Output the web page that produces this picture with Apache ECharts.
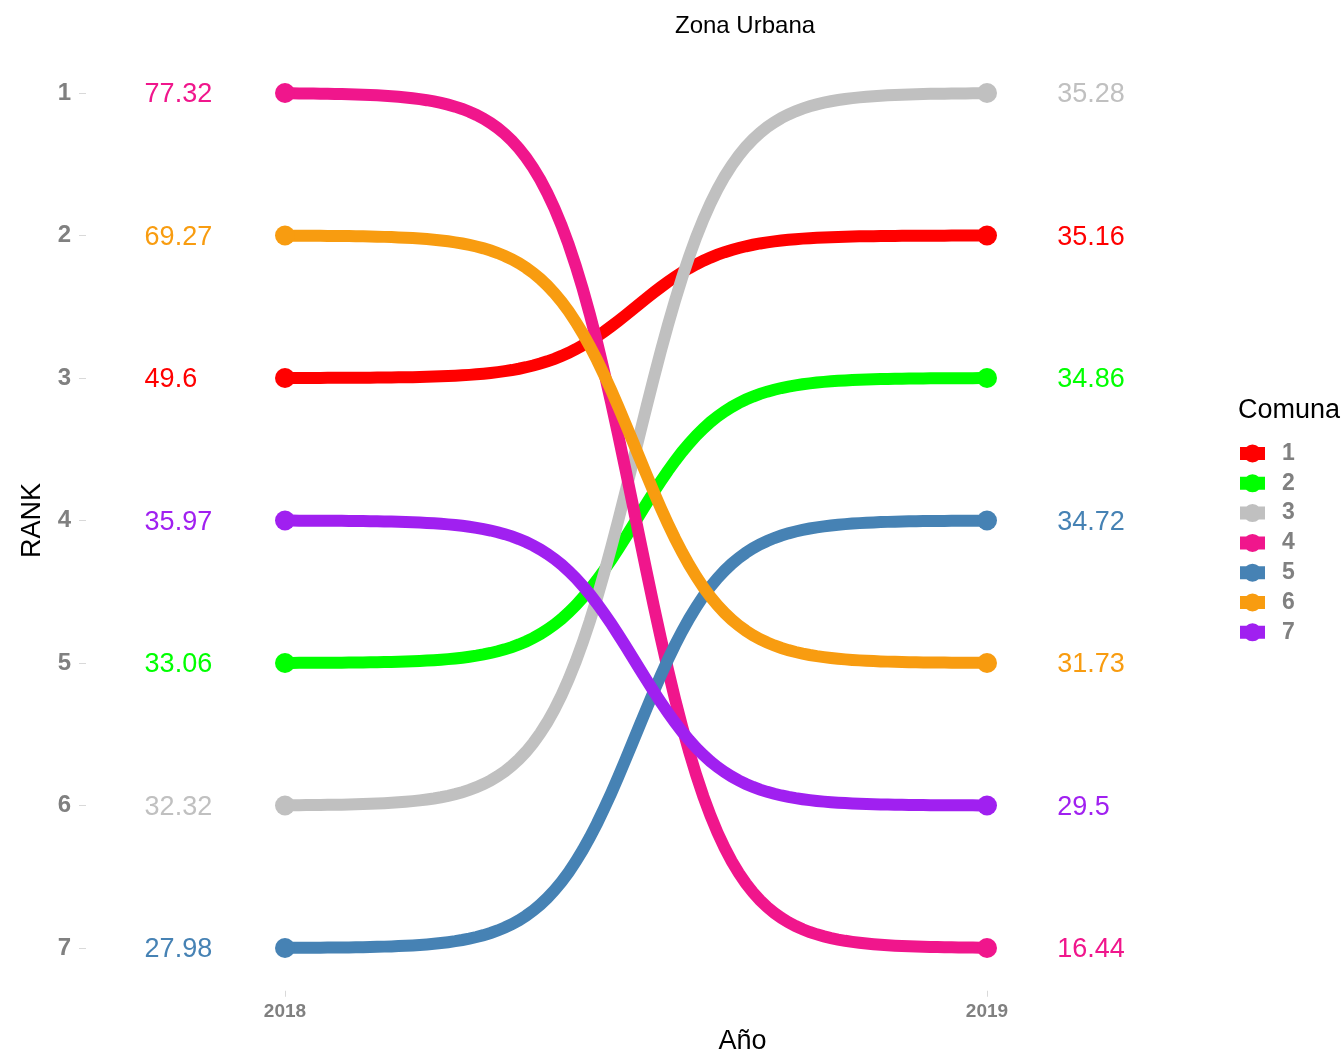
<!DOCTYPE html>
<html>
<head>
<meta charset="utf-8">
<script src="https://cdn.jsdelivr.net/npm/echarts@6/dist/echarts.min.js"></script>
<style>html,body{margin:0;padding:0;background:#fff;overflow:hidden}#c{width:1344px;height:1054px}</style>
</head>
<body>
<div id="c"></div>
<script>
var comunas = ['1', '2', '3', '4', '5', '6', '7'];
var colors = ['#FF0000', '#00FF00', '#C0C0C0', '#F0168C', '#4682B4', '#F89C10', '#A020F0'];
var years = [2018, 2019];
var rank2018 = [3, 5, 6, 1, 7, 2, 4];
var rank2019 = [2, 3, 1, 7, 4, 5, 6];
var value2018 = [49.6, 33.06, 32.32, 77.32, 27.98, 69.27, 35.97];
var value2019 = [35.16, 34.86, 35.28, 16.44, 34.72, 31.73, 29.5];
var rankTicks = [1, 2, 3, 4, 5, 6, 7];

var SMOOTH = 8, N = 100;
var LABEL_LEFT = 2017.8, LABEL_RIGHT = 2019.1;
var FONT = '"Liberation Sans", Arial, Helvetica, sans-serif';

function makeRender(idx) {
  return function (params, api) {
    var p0 = api.coord([api.value(0), api.value(1)]);
    var p1 = api.coord([api.value(2), api.value(3)]);
    var pts = [];
    for (var i = 0; i < N; i++) {
      var t = -SMOOTH + (2 * SMOOTH) * i / (N - 1);
      var s = Math.exp(t) / (Math.exp(t) + 1);
      pts.push([p0[0] + (t + SMOOTH) / (2 * SMOOTH) * (p1[0] - p0[0]), p0[1] + s * (p1[1] - p0[1])]);
    }
    var col = colors[idx];
    var lA = api.coord([LABEL_LEFT, api.value(1)]);
    var lB = api.coord([LABEL_RIGHT, api.value(3)]);
    return {
      type: 'group',
      children: [
        { type: 'polyline', shape: { points: pts }, style: { stroke: col, lineWidth: 12, fill: null, lineCap: 'butt' } },
        { type: 'circle', z2: 10, shape: { cx: p0[0], cy: p0[1], r: 10 }, style: { fill: col } },
        { type: 'circle', z2: 10, shape: { cx: p1[0], cy: p1[1], r: 10 }, style: { fill: col } },
        { type: 'text', x: lA[0], y: lA[1] + 2, style: { text: String(value2018[idx]), fill: col, font: '27px ' + FONT, align: 'left', verticalAlign: 'middle' } },
        { type: 'text', x: lB[0], y: lB[1] + 2, style: { text: String(value2019[idx]), fill: col, font: '27px ' + FONT, align: 'left', verticalAlign: 'middle' } }
      ]
    };
  };
}

var series = comunas.map(function (c, i) {
  return {
    type: 'custom',
    name: c,
    itemStyle: { color: colors[i] },
    renderItem: makeRender(i),
    encode: { x: [0, 2], y: [1, 3] },
    data: [[years[0], rank2018[i], years[1], rank2019[i]]],
    silent: true,
    clip: false
  };
});

var legendIcon = 'path://M0,2.5L25,2.5L25,15.5L0,15.5Z M12.5,0A9,9 0 1 1 12.49,0Z';

var chart = echarts.init(document.getElementById('c'), null, { renderer: 'canvas' });
chart.setOption({
  animation: false,
  backgroundColor: '#ffffff',
  title: [
    { text: 'Zona Urbana', left: 675, top: 14, textStyle: { fontFamily: FONT, fontSize: 24, fontWeight: 'normal', color: '#000' }, padding: 0 },
    { text: 'Comuna', left: 1238, top: 397, textStyle: { fontFamily: FONT, fontSize: 27, fontWeight: 'normal', color: '#000' }, padding: 0 }
  ],
  legend: {
    orient: 'vertical',
    left: 1240,
    top: 442,
    itemWidth: 25,
    itemHeight: 18,
    itemGap: 6.8,
    padding: 0,
    icon: legendIcon,
    selectedMode: false,
    data: comunas,
    textStyle: { fontFamily: FONT, fontSize: 23, fontWeight: 'bold', color: '#808080', padding: [0, 0, 0, 12] }
  },
  grid: { left: 86, top: 50.25, width: 1313, height: 940.5, containLabel: false, outerBoundsMode: 'none' },
  xAxis: {
    type: 'value',
    min: 2018 - 199 / 702,
    max: 2018 - 199 / 702 + 1313 / 702,
    name: 'Año',
    nameLocation: 'middle',
    nameGap: 37,
    nameTextStyle: { fontFamily: FONT, fontSize: 27, color: '#000' },
    axisLine: { show: false },
    splitLine: { show: false },
    axisTick: { show: true, length: 6, customValues: years, lineStyle: { color: '#d9d9d9', width: 1 } },
    axisLabel: { customValues: years, margin: 12, fontFamily: FONT, fontSize: 19, fontWeight: 'bold', color: '#808080', formatter: function (v) { return String(Math.round(v)); } }
  },
  yAxis: {
    type: 'value',
    inverse: true,
    min: 0.7,
    max: 7.3,
    name: 'RANK',
    nameLocation: 'middle',
    nameGap: 40,
    nameTextStyle: { fontFamily: FONT, fontSize: 27, color: '#000' },
    axisLine: { show: false },
    splitLine: { show: false },
    axisTick: { show: true, length: 7, customValues: rankTicks, lineStyle: { color: '#d9d9d9', width: 1 } },
    axisLabel: { customValues: rankTicks, margin: 15, fontFamily: FONT, fontSize: 24, fontWeight: 'bold', color: '#808080' }
  },
  series: series
});
</script>
</body>
</html>
